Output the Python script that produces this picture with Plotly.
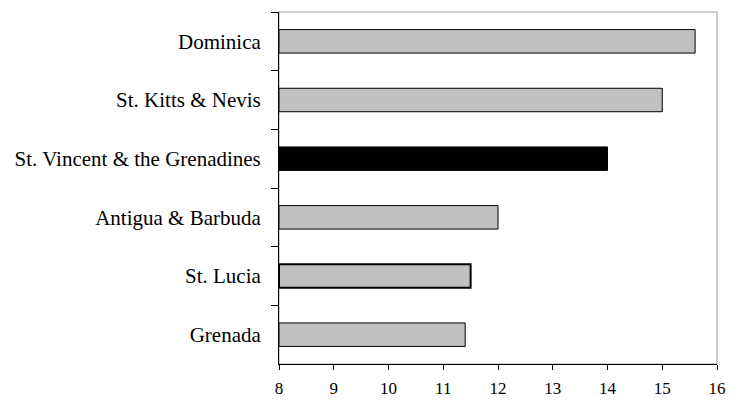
import plotly.graph_objects as go

# Countries listed top to bottom
countries = [
    "Dominica",
    "St. Kitts & Nevis",
    "St. Vincent & the Grenadines",
    "Antigua & Barbuda",
    "St. Lucia",
    "Grenada",
]
values = [15.6, 15.0, 14.0, 12.0, 11.5, 11.4]
bar_colors = ["#c0c0c0", "#c0c0c0", "#000000", "#c0c0c0", "#c0c0c0", "#c0c0c0"]
outline_widths = [1, 1, 1, 1, 2, 1]
x_ticks = [8, 9, 10, 11, 12, 13, 14, 15, 16]

AXIS_MIN = 8

fig = go.Figure(
    go.Bar(
        y=countries,
        x=[v - AXIS_MIN for v in values],
        base=AXIS_MIN,
        orientation="h",
        width=0.4,
        marker=dict(color=bar_colors, line=dict(color="#000000", width=outline_widths)),
        hoverinfo="skip",
    )
)

fig.update_layout(
    width=731,
    height=400,
    margin=dict(l=279, r=14, t=12, b=36),
    paper_bgcolor="white",
    plot_bgcolor="white",
    showlegend=False,
    font=dict(family="Liberation Serif", color="#000000"),
    shapes=[
        dict(
            type="rect", xref="paper", yref="paper",
            x0=0, x1=1, y0=0, y1=1,
            line=dict(color="#a0a0a0", width=1),
            layer="below",
        )
    ],
)

fig.update_xaxes(
    range=[8, 16],
    tickvals=x_ticks,
    ticktext=[str(t) for t in x_ticks],
    ticks="outside",
    ticklen=5,
    tickcolor="#000000",
    showline=True,
    linecolor="#000000",
    linewidth=1,
    showgrid=False,
    zeroline=False,
    automargin=False,
    ticklabelstandoff=4,
    tickfont=dict(size=17, family="Liberation Serif", color="#000000"),
)

fig.update_yaxes(
    categoryorder="array",
    categoryarray=countries,
    autorange="reversed",
    tickson="boundaries",
    ticks="outside",
    ticklen=7,
    tickcolor="#000000",
    showline=True,
    linecolor="#000000",
    linewidth=1,
    showgrid=False,
    zeroline=False,
    automargin=False,
    ticklabelstandoff=13,
    tickfont=dict(size=21, family="Liberation Serif", color="#000000"),
)

fig.write_html("out.html")
